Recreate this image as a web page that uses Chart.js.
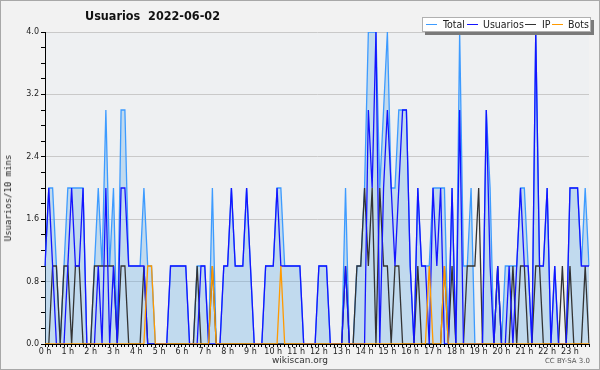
<!DOCTYPE html>
<html>
<head>
<meta charset="utf-8">
<script src="https://cdn.jsdelivr.net/npm/chart.js@4/dist/chart.umd.min.js"></script>
<style>
  html, body { margin: 0; padding: 0; background: #f2f2f2; }
  #wrap { position: relative; width: 600px; height: 370px; background: #f2f2f2; overflow: hidden; }
  #frame { position: absolute; left: 0; top: 0; width: 600px; height: 370px; box-sizing: border-box; border: 1px solid #a8a8a8; pointer-events: none; }
  #title { position: absolute; left: 85px; top: 8px; font: bold 12.5px "DejaVu Sans Condensed", "DejaVu Sans", sans-serif; color: #111; white-space: pre; }
  #ytitle { position: absolute; left: 3px; top: 198px; font: 9px "DejaVu Sans Mono", monospace; color: #222; transform-origin: 0 0; transform: rotate(-90deg) translate(-50%, 0); white-space: pre; }
  #legend { position: absolute; left: 422px; top: 17px; width: 167px; height: 13px; box-sizing: content-box; background: #fff; border: 1px solid #b0b0b0; box-shadow: 3px 3px 0 #7a7a7a; font: 10.5px "DejaVu Sans Condensed", "DejaVu Sans", sans-serif; color: #222; white-space: nowrap; }
  #legend .sw { position: absolute; top: 6px; width: 11px; height: 0; border-top: 1px solid; }
  #legend .lb { position: absolute; top: 0px; line-height: 13px; }
  #foot1 { position: absolute; left: 0; width: 600px; top: 355px; text-align: center; font: 9px "DejaVu Sans", sans-serif; color: #333; }
  #foot2 { position: absolute; right: 10px; top: 357px; font: 7px "DejaVu Sans", sans-serif; color: #555; }
</style>
</head>
<body>
<div id="wrap">
  <canvas id="c" width="600" height="370"></canvas>
  <div id="title"></div>
  <div id="ytitle"></div>
  <div id="legend"></div>
  <div id="foot1">wikiscan.org</div>
  <div id="foot2">CC BY-SA 3.0</div>
  <div id="frame"></div>
</div>
<script>
// ---- text ----
const chartTitle = "Usuarios  2022-06-02";
const yAxisTitle = "Usuarios/10 mins";
const hourLabels = ["0 h","1 h","2 h","3 h","4 h","5 h","6 h","7 h","8 h","9 h","10 h","11 h",
                    "12 h","13 h","14 h","15 h","16 h","17 h","18 h","19 h","20 h","21 h","22 h","23 h"];
const slotMinutes = ["00","10","20","30","40","50"];
const seriesNames = ["Total", "Usuarios", "IP", "Bots"];
const yTickLabels = ["0.0","0.8","1.6","2.4","3.2","4.0"];

// ---- values per 10-minute slot (144 slots) ----
const total = [
  1,2,2,1,0,1, 2,2,2,2,2,0, 0,1,2,1,3,1, 2,0,3,3,1,1,
  1,1,2,1,1,0, 0,0,0,1,1,1, 1,1,0,0,1,1, 1,0,2,0,0,1,
  1,2,1,1,1,2, 1,0,0,0,1,1, 1,2,2,1,1,1, 1,1,0,0,0,0,
  1,1,1,0,0,0, 0,2,0,0,1,1, 2,4,4,4,2,3, 4,2,2,3,3,3,
  1,0,2,1,1,1, 2,2,2,2,0,2, 0,4,1,1,2,0, 0,0,3,2,0,1,
  0,1,1,1,1,2, 2,1,0,4,1,1, 2,0,1,0,0,0, 2,2,2,1,2,1
];
const usuarios = [
  1,2,1,0,0,0, 1,2,1,1,2,0, 0,0,1,0,2,0, 1,0,2,2,1,1,
  1,1,1,0,0,0, 0,0,0,1,1,1, 1,1,0,0,0,1, 1,0,0,0,0,1,
  1,2,1,1,1,2, 1,0,0,0,1,1, 1,2,1,1,1,1, 1,1,0,0,0,0,
  1,1,1,0,0,0, 0,1,0,0,0,0, 0,3,2,4,0,2, 3,2,1,2,3,3,
  1,0,2,1,1,0, 2,1,2,0,0,2, 0,3,0,0,0,0, 0,0,3,1,0,1,
  0,0,1,0,1,2, 1,1,0,4,1,1, 2,0,1,0,0,0, 2,2,2,1,1,1
];
const ip = [
  0,0,1,1,0,1, 1,0,1,1,0,0, 0,1,1,1,1,1, 1,0,1,1,0,0,
  0,0,1,0,0,0, 0,0,0,0,0,0, 0,0,0,0,1,0, 0,0,1,0,0,0,
  0,0,0,0,0,0, 0,0,0,0,0,0, 0,0,0,0,0,0, 0,0,0,0,0,0,
  0,0,0,0,0,0, 0,1,0,0,1,1, 2,1,2,0,2,1, 1,0,1,1,0,0,
  0,0,1,0,0,0, 0,0,0,1,0,1, 0,0,0,1,1,1, 2,0,0,0,0,1,
  0,0,0,1,0,1, 1,0,0,1,1,0, 0,0,0,0,1,0, 1,0,0,0,1,0
];
const bots = [
  0,0,0,0,0,0, 0,0,0,0,0,0, 0,0,0,0,0,0, 0,0,0,0,0,0,
  0,0,0,1,1,0, 0,0,0,0,0,0, 0,0,0,0,0,0, 0,0,1,0,0,0,
  0,0,0,0,0,0, 0,0,0,0,0,0, 0,0,1,0,0,0, 0,0,0,0,0,0,
  0,0,0,0,0,0, 0,0,0,0,0,0, 0,0,0,0,0,0, 0,0,0,0,0,0,
  0,0,0,0,0,1, 0,0,0,1,0,0, 0,0,0,0,0,0, 0,0,0,0,0,0,
  0,0,0,0,0,0, 0,0,0,0,0,0, 0,0,0,0,0,0, 0,0,0,0,0,0
];
const colors = { total: "#3d9bff", usuarios: "#1414ff", ip: "#333333", bots: "#ff9a00" };

// categories: one per 10-minute slot
const categories = [];
hourLabels.forEach((h, hi) => slotMinutes.forEach(m => categories.push(hi + ":" + m)));

document.getElementById("title").textContent = chartTitle;
document.getElementById("ytitle").textContent = yAxisTitle;

const bgPlugin = {
  id: "bg",
  beforeDraw(chart) {
    const { ctx, chartArea: a } = chart;
    ctx.save();
    ctx.fillStyle = "#f2f2f2";
    ctx.fillRect(0, 0, chart.width, chart.height);
    ctx.fillStyle = "#eef0f2";
    ctx.fillRect(a.left, a.top, a.right - a.left, a.bottom - a.top);
    ctx.restore();
  }
};

const chart = new Chart(document.getElementById("c"), {
  type: "line",
  data: {
    labels: categories,
    datasets: [
      { label: seriesNames[0], data: total, borderColor: colors.total, backgroundColor: "rgba(100,170,230,0.32)", fill: "origin", borderWidth: 1.3, order: 4 },
      { label: seriesNames[1], data: usuarios, borderColor: colors.usuarios, borderWidth: 1.3, fill: false, order: 2 },
      { label: seriesNames[2], data: ip, borderColor: colors.ip, borderWidth: 1.3, fill: false, order: 3 },
      { label: seriesNames[3], data: bots, borderColor: colors.bots, borderWidth: 1.3, fill: false, order: 1 }
    ]
  },
  options: {
    responsive: false,
    animation: false,
    events: [],
    layout: { padding: { left: 0, right: 11, top: 32, bottom: 0 } },
    elements: { point: { radius: 0 }, line: { tension: 0 } },
    plugins: { legend: { display: false }, title: { display: false }, tooltip: { enabled: false } },
    scales: {
      x: {
        type: "category",
        offset: false,
        grid: { drawOnChartArea: false, drawTicks: true, tickLength: 3, tickColor: "#000", tickWidth: 1 },
        border: { color: "#000", width: 1 },
        ticks: {
          autoSkip: false, maxRotation: 0, minRotation: 0, padding: 0,
          color: "#222", font: { family: "DejaVu Sans", size: 8 },
          callback: (v, i) => (i % 6 === 0 ? hourLabels[i / 6] : "")
        },
        afterFit: (s) => { s.height = 26; }
      },
      y: {
        min: 0, max: 4,
        grid: {
          drawTicks: true, tickLength: 4, tickColor: "#000",
          color: (c) => (c.tick && Math.round(c.tick.value * 10) % 8 === 0 ? "#c9c9c9" : "rgba(0,0,0,0)")
        },
        border: { color: "#000", width: 1 },
        ticks: {
          stepSize: 0.2, autoSkip: false, padding: 2,
          color: "#222", font: { family: "DejaVu Sans", size: 8 },
          callback: (v) => {
            const k = Math.round(v * 10);
            return k % 8 === 0 ? yTickLabels[k / 8] : "";
          }
        },
        afterFit: (s) => { s.width = 45; }
      }
    }
  },
  plugins: [bgPlugin]
});

// legend built from the datasets
const lg = document.getElementById("legend");
const swX = [3, 44, 102, 129];
const lbX = [20, 60, 119, 145];
chart.data.datasets.forEach((ds, k) => {
  const sw = document.createElement("span"); sw.className = "sw"; sw.style.borderTopColor = ds.borderColor; sw.style.left = swX[k] + "px";
  const lb = document.createElement("span"); lb.className = "lb"; lb.textContent = ds.label; lb.style.left = lbX[k] + "px";
  lg.appendChild(sw); lg.appendChild(lb);
});
</script>
</body>
</html>
